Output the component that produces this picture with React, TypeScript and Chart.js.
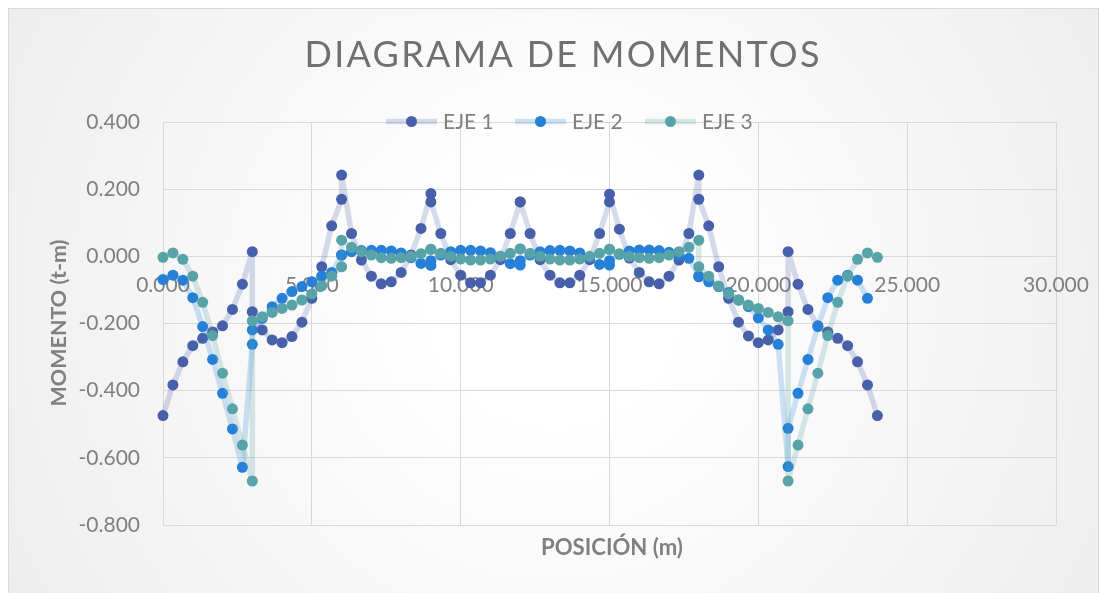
import React, { useEffect, useRef } from "react";
import { Chart, registerables } from "chart.js";

Chart.register(...registerables);

const TITLE = "DIAGRAMA DE MOMENTOS";
const X_TITLE = "POSICIÓN (m)";
const Y_TITLE = "MOMENTO (t-m)";
const SERIES_LABELS = ["EJE 1", "EJE 2", "EJE 3"];

const POSITIONS = [
  0, 0.333, 0.667, 1, 1.333, 1.667, 2, 2.333, 2.667, 3,
  3, 3.333, 3.667, 4, 4.333, 4.667, 5, 5.333, 5.667, 6,
  6, 6.333, 6.667, 7, 7.333, 7.667, 8, 8.333, 8.667, 9,
  9, 9.333, 9.667, 10, 10.333, 10.667, 11, 11.333, 11.667, 12,
  12, 12.333, 12.667, 13, 13.333, 13.667, 14, 14.333, 14.667, 15,
  15, 15.333, 15.667, 16, 16.333, 16.667, 17, 17.333, 17.667, 18,
  18, 18.333, 18.667, 19, 19.333, 19.667, 20, 20.333, 20.667, 21,
  21, 21.333, 21.667, 22, 22.333, 22.667, 23, 23.333, 23.667, 24,
];

const EJE1 = [
  -0.474, -0.383, -0.314, -0.266, -0.244, -0.225, -0.207, -0.158, -0.083, 0.014,
  -0.165, -0.219, -0.249, -0.257, -0.239, -0.196, -0.125, -0.031, 0.091, 0.170,
  0.242, 0.068, -0.011, -0.059, -0.082, -0.076, -0.048, 0.004, 0.083, 0.187,
  0.162, 0.068, -0.010, -0.056, -0.079, -0.079, -0.056, -0.010, 0.068, 0.162,
  0.162, 0.068, -0.010, -0.056, -0.079, -0.079, -0.056, -0.010, 0.068, 0.162,
  0.185, 0.081, -0.005, -0.048, -0.076, -0.082, -0.059, -0.011, 0.068, 0.242,
  0.170, 0.091, -0.031, -0.125, -0.196, -0.237, -0.257, -0.249, -0.219, -0.165,
  0.014, -0.083, -0.158, -0.207, -0.225, -0.244, -0.266, -0.314, -0.383, -0.474,
];

const EJE2 = [
  -0.069, -0.056, -0.071, -0.123, -0.209, -0.307, -0.408, -0.514, -0.628, -0.262,
  -0.219, -0.185, -0.150, -0.125, -0.105, -0.090, -0.076, -0.059, -0.048, 0.004,
  0.004, 0.014, 0.017, 0.018, 0.018, 0.016, 0.010, -0.004, -0.021, -0.027,
  -0.013, 0.004, 0.014, 0.018, 0.018, 0.016, 0.011, 0.000, -0.022, -0.026,
  -0.013, 0.004, 0.014, 0.017, 0.018, 0.016, 0.010, -0.003, -0.024, -0.026,
  -0.013, 0.006, 0.016, 0.019, 0.019, 0.017, 0.012, 0.004, -0.006, -0.058,
  -0.061, -0.076, -0.090, -0.108, -0.130, -0.150, -0.183, -0.219, -0.262, -0.626,
  -0.512, -0.408, -0.307, -0.209, -0.123, -0.071, -0.056, -0.071, -0.125, null,
];

const EJE3 = [
  -0.003, 0.010, -0.009, -0.059, -0.137, -0.236, -0.348, -0.454, -0.562, -0.669,
  -0.192, -0.180, -0.167, -0.155, -0.145, -0.130, -0.112, -0.088, -0.059, -0.031,
  0.048, 0.027, 0.014, 0.004, -0.004, -0.006, -0.004, 0.000, 0.008, 0.021,
  0.021, 0.009, 0.000, -0.008, -0.011, -0.011, -0.008, 0.000, 0.009, 0.022,
  0.022, 0.009, 0.000, -0.008, -0.011, -0.011, -0.008, 0.000, 0.009, 0.021,
  0.021, 0.008, 0.000, -0.004, -0.006, -0.004, 0.004, 0.014, 0.027, 0.048,
  -0.031, -0.059, -0.088, -0.112, -0.130, -0.145, -0.155, -0.167, -0.180, -0.192,
  -0.669, -0.562, -0.454, -0.348, -0.236, -0.137, -0.059, -0.009, 0.010, -0.003,
];

const MARKER_COLORS = ["#4860AA", "#2680D8", "#57A3A8"];
const LINE_COLORS = [
  "rgba(72,96,170,0.22)",
  "rgba(38,128,216,0.22)",
  "rgba(87,163,168,0.24)",
];

const FONT = "Lato";
const TEXT_GRAY = "#808080";

const fmt = (v: number) => (Math.abs(v) < 1e-9 ? "0.000" : Number(v).toFixed(3));

function fitFont(ctx: CanvasRenderingContext2D, text: string, weight: string, target: number, start: number) {
  ctx.font = `${weight} ${start}px ${FONT}`;
  const w = ctx.measureText(text).width;
  const size = (start * target) / w;
  ctx.font = `${weight} ${size}px ${FONT}`;
  return size;
}

const decorPlugin = {
  id: "decor",
  beforeDraw(chart: any) {
    const { ctx, width, height } = chart;
    ctx.save();
    ctx.fillStyle = "#ffffff";
    ctx.fillRect(0, 0, width, height);
    const g = ctx.createRadialGradient(554, 300, 120, 554, 300, 640);
    g.addColorStop(0, "#ffffff");
    g.addColorStop(1, "#ededed");
    ctx.fillStyle = g;
    ctx.fillRect(8, 8, 1091, height);
    ctx.strokeStyle = "#d9d9d9";
    ctx.lineWidth = 1;
    ctx.strokeRect(8.5, 8.5, 1090, height + 10);
    ctx.restore();
  },
  afterDraw(chart: any) {
    const { ctx } = chart;
    ctx.save();
    // Title
    ctx.fillStyle = "#707070";
    ctx.textAlign = "center";
    ctx.textBaseline = "middle";
    ctx.font = `400 36px ${FONT}`;
    const w0 = ctx.measureText(TITLE).width;
    const spacing = (515 - w0) / (TITLE.length - 1);
    (ctx as any).letterSpacing = `${spacing}px`;
    ctx.fillText(TITLE, 562 + spacing / 2, 55);
    (ctx as any).letterSpacing = "0px";

    // Legend
    const starts = [386, 515, 645];
    chart.data.datasets.forEach((ds: any, i: number) => {
      const x0 = starts[i];
      const y = 121.5;
      ctx.strokeStyle = ds.borderColor;
      ctx.lineWidth = 5.5;
      ctx.lineCap = "butt";
      ctx.beginPath();
      ctx.moveTo(x0, y);
      ctx.lineTo(x0 + 51, y);
      ctx.stroke();
      ctx.fillStyle = ds.pointBackgroundColor;
      ctx.beginPath();
      ctx.arc(x0 + 25.5, y, 5.5, 0, Math.PI * 2);
      ctx.fill();
      ctx.fillStyle = TEXT_GRAY;
      ctx.textAlign = "left";
      ctx.textBaseline = "middle";
      ctx.font = `400 21px ${FONT}`;
      ctx.fillText(ds.label, x0 + 57, y + 1);
    });

    // Axis titles
    ctx.fillStyle = TEXT_GRAY;
    ctx.textAlign = "center";
    ctx.textBaseline = "middle";
    fitFont(ctx, X_TITLE, "700", 142, 20);
    ctx.fillText(X_TITLE, 612, 548);

    ctx.translate(59, 323);
    ctx.rotate(-Math.PI / 2);
    fitFont(ctx, Y_TITLE, "700", 167, 20);
    ctx.fillText(Y_TITLE, 0, 0);
    ctx.restore();
  },
};

export default function App() {
  const ref = useRef<HTMLCanvasElement | null>(null);

  useEffect(() => {
    if (!ref.current) return;
    const series = [EJE1, EJE2, EJE3];
    const datasets = series.map((vals, i) => ({
      label: SERIES_LABELS[i],
      data: POSITIONS.map((x, j) => ({ x, y: vals[j] })),
      showLine: true,
      borderColor: LINE_COLORS[i],
      borderWidth: 5.5,
      borderJoinStyle: "round" as const,
      borderCapStyle: "round" as const,
      backgroundColor: MARKER_COLORS[i],
      pointBackgroundColor: MARKER_COLORS[i],
      pointBorderColor: MARKER_COLORS[i],
      pointBorderWidth: 0,
      pointRadius: 5.5,
      pointHoverRadius: 5.5,
      order: 3 - i,
      tension: 0,
      spanGaps: false,
      clip: false as any,
    }));

    const chart = new Chart(ref.current, {
      type: "scatter",
      data: { datasets },
      options: {
        animation: false,
        responsive: false,
        devicePixelRatio: 1,
        layout: { padding: { left: 0, top: 122, right: 51, bottom: 68 } },
        plugins: {
          legend: { display: false },
          title: { display: false },
          tooltip: { enabled: false },
        },
        scales: {
          x: {
            type: "linear",
            min: 0,
            max: 30,
            position: { y: 0 } as any,
            ticks: {
              stepSize: 5,
              callback: (v: any) => fmt(Number(v)),
              color: TEXT_GRAY,
              font: { family: FONT, size: 21 },
              padding: 16,
              maxRotation: 0,
              autoSkip: false,
            },
            grid: { color: "#d9d9d9", drawTicks: false, lineWidth: 1 },
            border: { display: false },
          },
          y: {
            type: "linear",
            min: -0.8,
            max: 0.4,
            ticks: {
              stepSize: 0.2,
              callback: (v: any) => fmt(Number(v)),
              color: TEXT_GRAY,
              font: { family: FONT, size: 21 },
              padding: 23,
            },
            grid: { color: "#d9d9d9", drawTicks: false, lineWidth: 1 },
            border: { display: false },
            afterFit: (s: any) => {
              s.width = 163;
            },
          },
        },
      },
      plugins: [decorPlugin],
    });
    return () => chart.destroy();
  }, []);

  return (
    <div style={{ position: "absolute", left: 0, top: 0, width: 1107, height: 593 }}>
      <canvas ref={ref} width={1107} height={593} style={{ display: "block" }} />
    </div>
  );
}
